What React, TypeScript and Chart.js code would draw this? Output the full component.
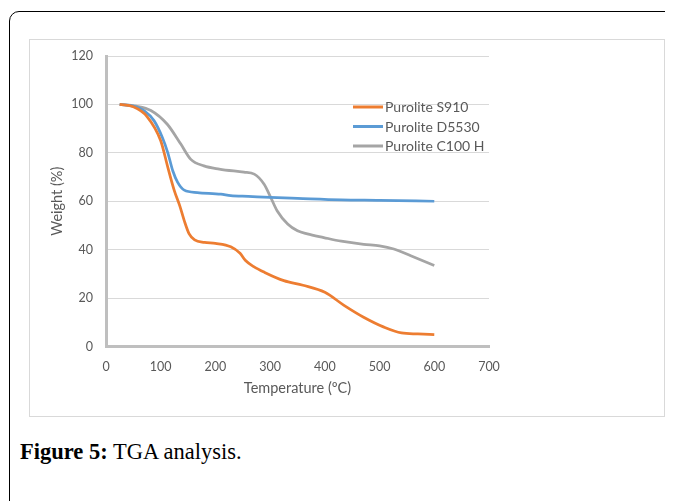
import React, { useEffect, useRef } from "react";
import { Chart, registerables } from "chart.js";

Chart.register(...registerables);

const seriesNames = ["Purolite S910", "Purolite D5530", "Purolite C100 H"];
const seriesColors = ["#ED7D31", "#5B9BD5", "#A5A5A5"];

const s910Temp = [25, 50, 75, 100, 113, 125, 135, 143, 152, 162, 180, 200, 228, 245, 255, 270, 290, 325, 360, 400, 435, 470, 508, 540, 570, 600];
const s910Weight = [100, 99, 95, 85, 74, 64.3, 58, 52, 46.5, 44, 43, 42.6, 41.2, 38.5, 35.5, 33, 30.6, 27.2, 25.3, 22.4, 17, 12.2, 8, 5.6, 5.2, 4.9];

const d5530Temp = [25, 50, 70, 88, 103, 113, 122, 131, 143, 167, 210, 228, 260, 300, 350, 430, 500, 600];
const d5530Weight = [100, 99.3, 97.3, 93.2, 86.3, 80, 72.6, 67.8, 64.6, 63.6, 62.9, 62.3, 62, 61.6, 61.2, 60.6, 60.4, 60];

const c100Temp = [25, 55, 82, 112, 137, 155, 179, 207, 252, 271, 289, 301, 313, 332, 350, 368, 398, 430, 471, 500, 526, 557, 600];
const c100Weight = [100, 99.3, 97.5, 91.8, 83.5, 77.3, 74.6, 73.3, 72, 71.2, 67, 61.6, 56, 50.6, 47.8, 46.5, 45, 43.5, 42.2, 41.6, 40.3, 37.5, 33.5];

const xTicks = [0, 100, 200, 300, 400, 500, 600, 700];
const yTicks = [0, 20, 40, 60, 80, 100, 120];

const FONT = "Lato";
const TEXT = "#595959";

const legendPlugin = {
  id: "insideLegend",
  afterDatasetsDraw(chart: any) {
    const { ctx, chartArea } = chart;
    const x0 = chartArea.left + 247;
    const rows = [51, 70.5, 90];
    ctx.save();
    ctx.font = `14px ${FONT}`;
    ctx.textBaseline = "middle";
    ctx.textAlign = "left";
    chart.data.datasets.forEach((ds: any, i: number) => {
      const y = chartArea.top + rows[i];
      ctx.strokeStyle = ds.borderColor;
      ctx.lineWidth = 3;
      ctx.beginPath();
      ctx.moveTo(x0, y);
      ctx.lineTo(x0 + 30, y);
      ctx.stroke();
      ctx.fillStyle = TEXT;
      ctx.fillText(ds.label, x0 + 32, y + 0.5);
    });
    ctx.restore();
  },
};

export default function App() {
  const ref = useRef<HTMLCanvasElement | null>(null);

  useEffect(() => {
    if (!ref.current) return;
    const temps = [s910Temp, d5530Temp, c100Temp];
    const weights = [s910Weight, d5530Weight, c100Weight];
    const chart = new Chart(ref.current, {
      type: "line",
      data: {
        datasets: seriesNames.map((name, i) => ({
          label: name,
          data: temps[i].map((t, j) => ({ x: t, y: weights[i][j] })),
          borderColor: seriesColors[i],
          backgroundColor: seriesColors[i],
          borderWidth: 2.75,
          pointRadius: 0,
          cubicInterpolationMode: "monotone" as const,
          fill: false,
        })),
      },
      options: {
        animation: false,
        responsive: false,
        maintainAspectRatio: false,
        layout: { padding: { left: 0, top: 16, right: 175, bottom: 15.5 } },
        plugins: { legend: { display: false }, tooltip: { enabled: false } },
        scales: {
          x: {
            type: "linear",
            min: 0,
            max: 700,
            afterBuildTicks: (scale: any) => {
              scale.ticks = xTicks.map((v) => ({ value: v }));
            },
            afterFit: (scale: any) => {
              scale.height = 54;
              scale.paddingLeft = 0;
              scale.paddingRight = 0;
            },
            grid: { display: false, drawTicks: false },
            border: { display: true, color: "#BFBFBF", width: 3 },
            ticks: { color: TEXT, font: { family: FONT, size: 12.5 }, padding: 13, maxRotation: 0 },
            title: {
              display: true,
              text: "Temperature (ºC)",
              color: TEXT,
              font: { family: FONT, size: 14.5 },
              padding: { top: 4, bottom: 3 },
            },
          },
          y: {
            type: "linear",
            min: 0,
            max: 120,
            afterBuildTicks: (scale: any) => {
              scale.ticks = yTicks.map((v) => ({ value: v }));
            },
            afterFit: (scale: any) => {
              scale.width = 76;
              scale.paddingTop = 0;
              scale.paddingBottom = 0;
            },
            grid: { display: true, color: "#D9D9D9", lineWidth: 1, drawTicks: false },
            border: { display: true, color: "#BFBFBF", width: 3 },
            ticks: { color: TEXT, font: { family: FONT, size: 12.5 }, padding: 13 },
            title: {
              display: true,
              text: "Weight (%)",
              color: TEXT,
              font: { family: FONT, size: 14.5 },
              padding: { top: 19, bottom: 4 },
            },
          },
        },
      },
      plugins: [legendPlugin],
    });
    return () => chart.destroy();
  }, []);

  return (
    <div style={{ position: "relative", width: 665, height: 493, overflow: "hidden" }}>
      <div
        style={{
          position: "absolute",
          left: 1,
          top: 3,
          width: 700,
          height: 600,
          border: "1px solid #000",
          borderRadius: 10,
          boxSizing: "border-box",
        }}
      />
      <div
        style={{
          position: "absolute",
          left: 21,
          top: 31,
          width: 636,
          height: 378,
          border: "1px solid #D9D9D9",
          boxSizing: "border-box",
          background: "#fff",
        }}
      >
        <canvas ref={ref} width={634} height={376} style={{ display: "block", width: 634, height: 376 }} />
      </div>
      <div
        style={{
          position: "absolute",
          left: 12,
          top: 431,
          fontFamily: "'Liberation Serif', serif",
          fontSize: 22.5,
          lineHeight: "26px",
          color: "#000",
          whiteSpace: "nowrap",
        }}
      >
        <b>Figure 5:</b> TGA analysis.
      </div>
    </div>
  );
}
